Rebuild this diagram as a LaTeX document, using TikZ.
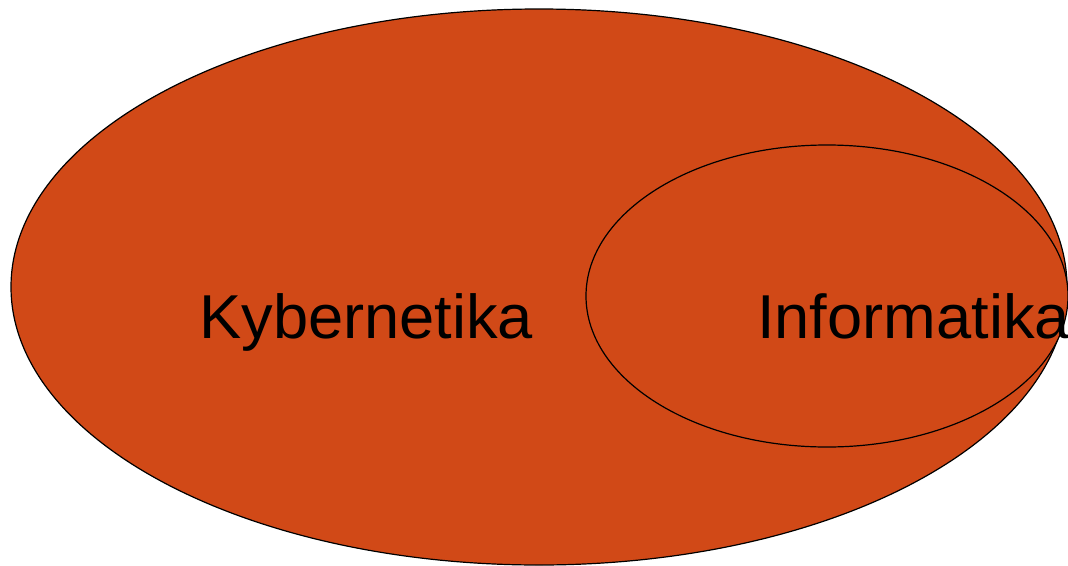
\documentclass[tikz,border=0pt]{standalone}
\usepackage{fontspec}
\setmainfont{Liberation Sans}
\definecolor{fillred}{RGB}{209,73,23}
\begin{document}
\begin{tikzpicture}[x=1pt,y=-1pt,
  venn/.style={draw=black,line width=1.2pt,fill=fillred},
  lbl/.style={font=\fontsize{62}{62}\selectfont,text=black,inner sep=0pt,anchor=base west,xscale=1.02}]
\useasboundingbox (0,0) rectangle (1068,565);
\draw[venn] (539,287) ellipse [x radius=528,y radius=278];
\draw[venn] (827,296) ellipse [x radius=241,y radius=151];
\node[lbl] (kyb) at (199,338) {Kybernetika};
\node[lbl] (inf) at (757,338) {Informatika};
\end{tikzpicture}
\end{document}
